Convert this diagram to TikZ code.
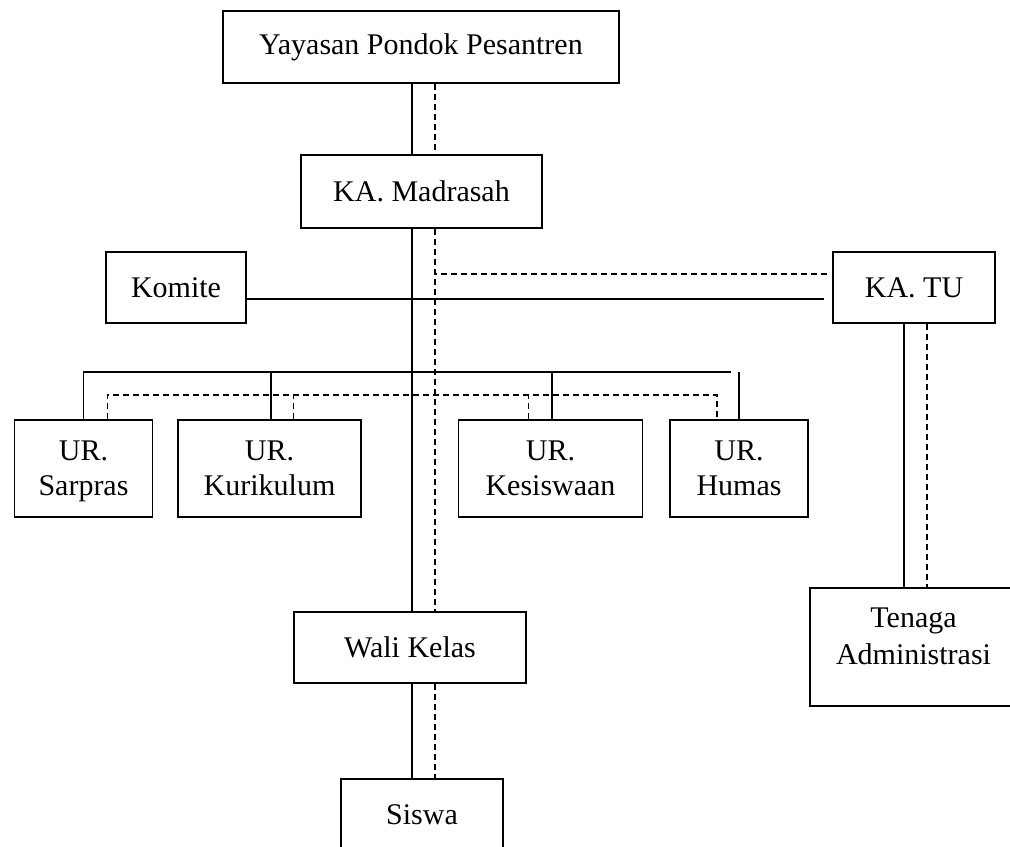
\documentclass[tikz,border=0pt]{standalone}
\usepackage{fontspec}
\setmainfont{Liberation Serif}
\begin{document}
\begin{tikzpicture}[x=0.5pt,y=-0.5pt,line width=0.9pt,
  kotak/.style={draw,inner sep=0pt,align=center,font=\fontsize{15}{17.5}\selectfont},
  urusan/.style={kotak,minimum height=48.5pt,text depth=0pt},
  putus/.style={line width=0.7pt,dash pattern=on 3pt off 2pt}]
\useasboundingbox (0,0) rectangle (1010,846) ;
\coordinate (trunk) at (412,0) ;
\coordinate (dtrunk) at (435,0) ;
\coordinate (bus) at (0,372) ;
\coordinate (dbus) at (0,395) ;
\node [kotak,minimum width=198pt,minimum height=36pt] (yay) at (421,47) {Yayasan Pondok Pesantren} ;
\node [kotak,minimum width=120.5pt,minimum height=36.5pt] (mad) at (421.5,191.5) {KA. Madrasah} ;
\node [kotak,minimum width=70pt,minimum height=35.5pt] (kom) at (176,287.5) {Komite} ;
\node [kotak,minimum width=81pt,minimum height=35.5pt] (katu) at (914,287.5) {KA. TU} ;
\node [urusan,minimum width=69pt] (sar) at (83.5,468.5) {UR.\\Sarpras} ;
\node [urusan,minimum width=91.5pt] (kur) at (269.5,468.5) {UR.\\Kurikulum} ;
\node [urusan,minimum width=92pt] (kes) at (550.5,468.5) {UR.\\Kesiswaan} ;
\node [urusan,minimum width=69pt] (hum) at (739,468.5) {UR.\\Humas} ;
\node [kotak,minimum width=116pt,minimum height=35.5pt] (wali) at (410,647.5) {Wali Kelas} ;
\node [kotak,minimum width=81pt,minimum height=36pt] (sis) at (422,815) {Siswa} ;
\node [kotak,minimum width=103.5pt,minimum height=59pt] (ten) at (913.5,647) {} ;
\node [align=center,inner sep=0pt,font=\fontsize{15}{18.5}\selectfont] (tenlbl) at ([yshift=5.25pt]ten.center) {Tenaga\\Administrasi} ;
\draw (yay.south -| trunk) -- (mad.north -| trunk) ;
\draw [putus] (yay.south -| dtrunk) -- (mad.north -| dtrunk) ;
\draw (mad.south -| trunk) -- (wali.north -| trunk) ;
\draw [putus] (mad.south -| dtrunk) -- (wali.north -| dtrunk) ;
\draw (wali.south -| trunk) -- (sis.north -| trunk) ;
\draw [putus] (wali.south -| dtrunk) -- (sis.north -| dtrunk) ;
\coordinate (komline) at ([yshift=-5.75pt]kom.east) ;
\draw (komline) -- ([xshift=-4pt,yshift=-5.75pt]katu.west) ;
\coordinate (tudash) at ([xshift=-2.5pt,yshift=6.75pt]katu.west) ;
\draw [putus] (tudash) -- (tudash -| dtrunk) ;
\draw (sar.north) -- (sar.north |- bus) -- ([xshift=365.5pt]bus) ;
\draw ([xshift=0.75pt]kur.north) -- ([xshift=0.75pt]kur.north |- bus) ;
\draw ([xshift=0.75pt]kes.north) -- ([xshift=0.75pt]kes.north |- bus) ;
\draw (hum.north) -- (hum.north |- bus) ;
\draw [putus] ([xshift=12pt]sar.north) -- ([xshift=12pt]sar.north |- dbus) -- ([xshift=-11pt]hum.north |- dbus) -- ([xshift=-11pt]hum.north) ;
\draw [putus] ([xshift=12pt]kur.north) -- ([xshift=12pt]kur.north |- dbus) ;
\draw [putus] ([xshift=-11pt]kes.north) -- ([xshift=-11pt]kes.north |- dbus) ;
\coordinate (tuline) at ([xshift=-5pt]katu.south) ;
\coordinate (tudline) at ([xshift=6.5pt]katu.south) ;
\draw (tuline) -- (tuline |- ten.north) ;
\draw [putus] (tudline) -- (tudline |- ten.north) ;
\end{tikzpicture}
\end{document}
